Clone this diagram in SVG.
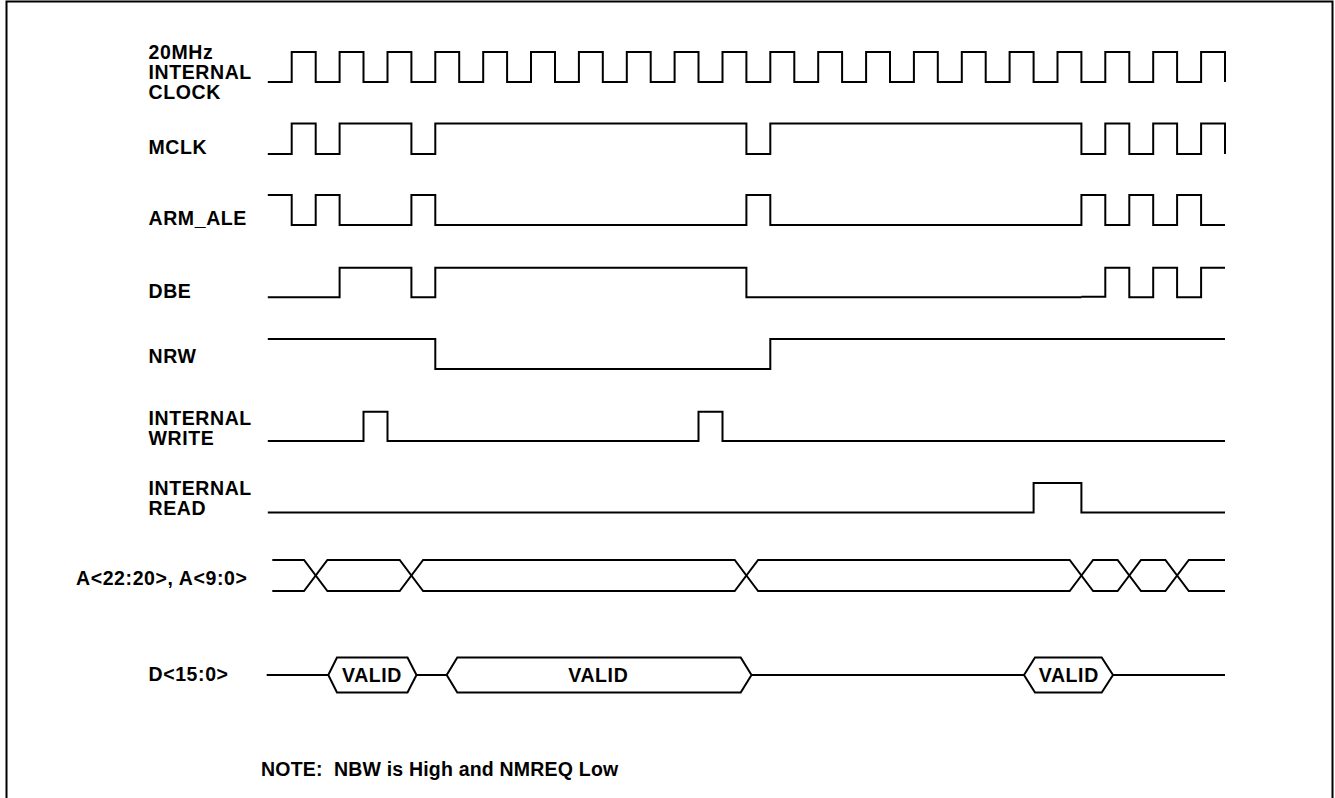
<svg xmlns="http://www.w3.org/2000/svg" width="1335" height="798" viewBox="0 0 1335 798">
<style>
.w{fill:none;stroke:#000;stroke-width:2;stroke-linejoin:miter;stroke-linecap:butt}
.h{fill:#fff;stroke:#000;stroke-width:2;stroke-linejoin:miter}
.t{font-family:"Liberation Sans",Arial,Helvetica,sans-serif;font-weight:bold;font-size:19.5px;letter-spacing:0.6px;fill:#000}
.c{text-anchor:middle}
.n{letter-spacing:0.2px}
</style>
<rect width="1335" height="798" fill="#fff"/>
<path id="frame" class="w" d="M6.5,798 V1.5 H1332.5 V798"/>
<g id="clk">
<text class="t" x="148.5" y="58.7">20MHz</text>
<text class="t" x="148.5" y="78.7">INTERNAL</text>
<text class="t" x="148.5" y="98.7">CLOCK</text>
<path class="w" d="M267.8,82 H291.7 V52 H315.7 V82 H339.6 V52 H363.5 V82 H387.5 V52 H411.4 V82 H435.3 V52 H459.2 V82 H483.2 V52 H507.1 V82 H531 V52 H555 V82 H578.9 V52 H602.8 V82 H626.8 V52 H650.7 V82 H674.6 V52 H698.5 V82 H722.5 V52 H746.4 V82 H770.3 V52 H794.3 V82 H818.2 V52 H842.1 V82 H866.1 V52 H890 V82 H913.9 V52 H937.8 V82 H961.8 V52 H985.7 V82 H1009.6 V52 H1033.6 V82 H1057.5 V52 H1081.4 V82 H1105.3 V52 H1129.3 V82 H1153.2 V52 H1177.1 V82 H1201.1 V52 H1225 V82"/>
</g>
<g id="mclk">
<text class="t" x="148.5" y="154">MCLK</text>
<path class="w" d="M267.8,154 H291.7 V123.5 H315.7 V154 H339.6 V123.5 H411.4 V154 H435.3 V123.5 H746.4 V154 H770.3 V123.5 H1081.4 V154 H1105.3 V123.5 H1129.3 V154 H1153.2 V123.5 H1177.1 V154 H1201.1 V123.5 H1225 V154"/>
</g>
<g id="armale">
<text class="t" x="148.5" y="225">ARM_ALE</text>
<path class="w" d="M267.8,195 H291.7 V225 H315.7 V195 H339.6 V225 H411.4 V195 H435.3 V225 H746.4 V195 H770.3 V225 H1081.4 V195 H1105.3 V225 H1129.3 V195 H1153.2 V225 H1177.1 V195 H1201.1 V225 H1225"/>
</g>
<g id="dbe">
<text class="t" x="148.5" y="297.7">DBE</text>
<path class="w" d="M267.8,297.3 H339.6 V267.7 H411.4 V297.3 H435.3 V267.7 H746.4 V297.3 H1081.4 M1081.4,296.7 H1105.3 V267.7 H1129.3 V297.3 H1153.2 V267.7 H1177.1 V297.3 H1201.1 V267.7 H1225"/>
</g>
<g id="nrw">
<text class="t" x="148.5" y="363.3">NRW</text>
<path class="w" d="M267.8,339 H435.3 V369 H770.3 V339 H1225"/>
</g>
<g id="iwrite">
<text class="t" x="148.5" y="424.5">INTERNAL</text>
<text class="t" x="148.5" y="444.5">WRITE</text>
<path class="w" d="M267.8,441 H363.5 V411.7 H387.5 V441 H698.5 V411.7 H722.5 V441 H1225"/>
</g>
<g id="iread">
<text class="t" x="148.5" y="495">INTERNAL</text>
<text class="t" x="148.5" y="515">READ</text>
<path class="w" d="M267.8,512.5 H1033.6 V483 H1081.4 V512.5 H1225"/>
</g>
<g id="addr">
<text class="t" x="76" y="585">A&lt;22:20&gt;, A&lt;9:0&gt;</text>
<path class="w" d="M272.3,560 H304 L327.4,591 H399.7 L423.1,560 H734.7 L758.1,591 H1069.7 L1093.1,560 H1117.6 L1141,591 H1165.4 L1188.8,560 H1225"/>
<path class="w" d="M272.3,591 H304 L327.4,560 H399.7 L423.1,591 H734.7 L758.1,560 H1069.7 L1093.1,591 H1117.6 L1141,560 H1165.4 L1188.8,591 H1225"/>
</g>
<g id="data">
<text class="t" x="148.5" y="680.7">D&lt;15:0&gt;</text>
<path class="w" d="M266.7,675 H328.3 M416.5,675 H446.7 M751.5,675 H1024 M1113,675 H1225"/>
<path class="h" d="M328.3,675 L337,657.5 H407.5 L416.5,675 L407.5,692.5 H337 Z"/>
<path class="h" d="M446.7,675 L457.3,657.5 H740.7 L751.5,675 L740.7,692.5 H457.3 Z"/>
<path class="h" d="M1024,675 L1035,657.5 H1101.7 L1113,675 L1101.7,692.5 H1035 Z"/>
<text class="t c" x="372" y="682">VALID</text>
<text class="t c" x="598.3" y="682">VALID</text>
<text class="t c" x="1068.8" y="682">VALID</text>
</g>
<g id="note">
<text class="t n" x="261" y="776" xml:space="preserve">NOTE:  NBW is High and NMREQ Low</text>
</g>
</svg>
